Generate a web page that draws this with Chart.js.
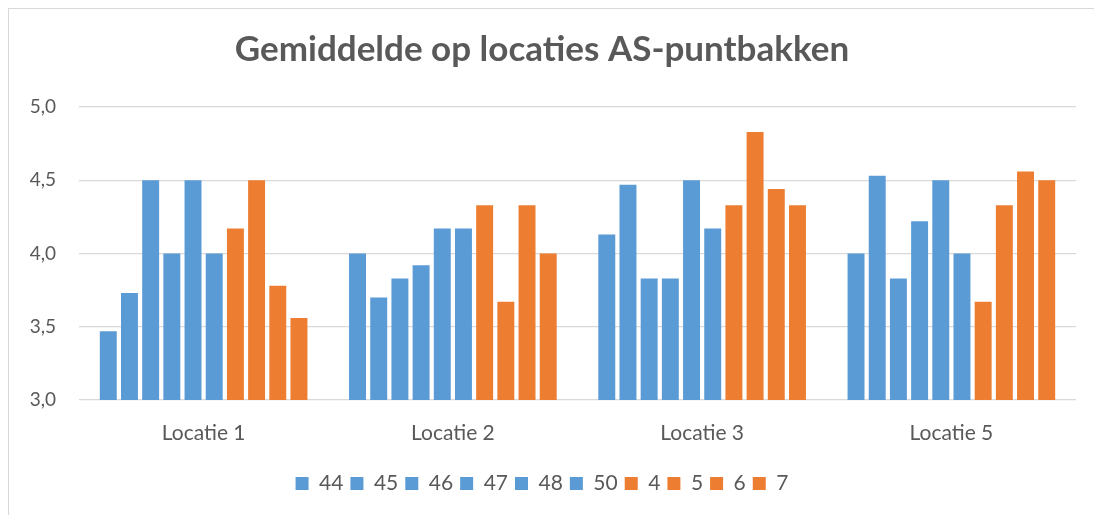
<!DOCTYPE html>
<html>
<head>
<meta charset="utf-8">
<script src="https://cdn.jsdelivr.net/npm/chart.js@4/dist/chart.umd.min.js"></script>
<style>
  html, body { margin: 0; padding: 0; background: #fff; }
  #wrap { position: relative; width: 1094px; height: 515px; }
  #frame { position: absolute; left: 8px; top: 8px; right: 0; bottom: 0;
           border-left: 1px solid #d9d9d9; border-top: 1px solid #d9d9d9; }
  canvas { position: absolute; left: 0; top: 0; }
</style>
</head>
<body>
<div id="wrap">
  <div id="frame"></div>
  <canvas id="chart" width="1094" height="515"></canvas>
</div>
<script>
// categories
const locaties = ['Locatie 1', 'Locatie 2', 'Locatie 3', 'Locatie 5'];

// series (gemiddelde per week)
const w44 = [3.47, 4.00, 4.13, 4.00];
const w45 = [3.73, 3.70, 4.47, 4.53];
const w46 = [4.50, 3.83, 3.83, 3.83];
const w47 = [4.00, 3.92, 3.83, 4.22];
const w48 = [4.50, 4.17, 4.50, 4.50];
const w50 = [4.00, 4.17, 4.17, 4.00];
const w4 = [4.17, 4.33, 4.33, 3.67];
const w5 = [4.50, 3.67, 4.83, 4.33];
const w6 = [3.78, 4.33, 4.44, 4.56];
const w7 = [3.56, 4.00, 4.33, 4.50];

const seriesLabels = ['44', '45', '46', '47', '48', '50', '4', '5', '6', '7'];
const seriesValues = [w44, w45, w46, w47, w48, w50, w4, w5, w6, w7];

const blauw = '#5b9bd5';
const oranje = '#ed7d31';

const datasets = seriesLabels.map((lbl, i) => ({
  label: lbl,
  data: seriesValues[i],
  backgroundColor: i < 6 ? blauw : oranje,
  borderWidth: 0,
  barPercentage: 0.8,
  categoryPercentage: 0.85,
}));

const fontFam = 'Lato, "Open Sans", sans-serif';
const grijs = '#595959';

new Chart(document.getElementById('chart'), {
  type: 'bar',
  data: { labels: locaties, datasets: datasets },
  options: {
    responsive: false,
    animation: false,
    layout: { padding: { left: 8, right: 18, top: 0, bottom: 11 } },
    plugins: {
      title: {
        display: true,
        text: 'Gemiddelde op locaties AS-puntbakken',
        color: grijs,
        font: { family: fontFam, size: 35, weight: 'bold' },
        padding: { top: 29, bottom: 36 },
      },
      legend: {
        position: 'bottom',
        labels: {
          color: grijs,
          font: { family: fontFam, size: 21 },
          boxWidth: 13,
          boxHeight: 13,
          padding: 7,
        },
      },
      tooltip: { enabled: false },
    },
    scales: {
      x: {
        grid: { display: false },
        border: { display: false },
        ticks: { color: grijs, font: { family: fontFam, size: 21 }, padding: 13 },
        afterFit: (s) => { s.height = 66; },
      },
      y: {
        min: 3,
        max: 5,
        grid: { color: '#d9d9d9', lineWidth: 1.3, drawTicks: false },
        border: { display: false },
        ticks: {
          stepSize: 0.5,
          color: grijs,
          font: { family: fontFam, size: 19 },
          padding: 23,
          callback: (v) => v.toFixed(1).replace('.', ','),
        },
        afterFit: (s) => { s.width = 71; },
      },
    },
  },
});
</script>
</body>
</html>
